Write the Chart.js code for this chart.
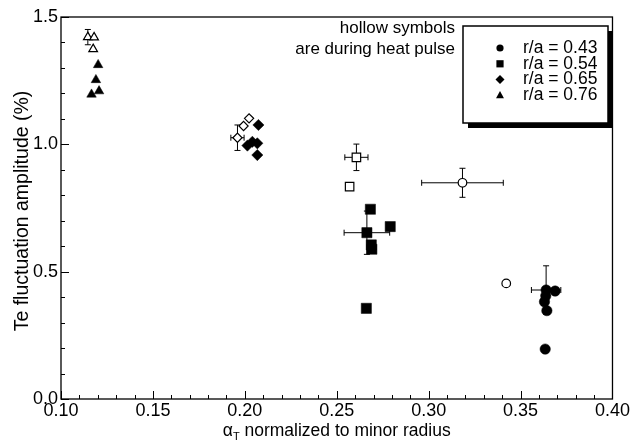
<!DOCTYPE html>
<html>
<head>
<meta charset="utf-8">
<script src="https://cdn.jsdelivr.net/npm/chart.js@4/dist/chart.umd.min.js"></script>
<style>
  html, body { margin: 0; padding: 0; background: #fff; }
  #wrap { width: 631px; height: 442px; }
</style>
</head>
<body>
<div id="wrap"><canvas id="c" width="631" height="442"></canvas></div>
<script>
// ---- data ----
const xTicks = [0.10, 0.15, 0.20, 0.25, 0.30, 0.35, 0.40];
const yTicks = [0.0, 0.5, 1.0, 1.5];
const legendLabels = ['r/a = 0.43', 'r/a = 0.54', 'r/a = 0.65', 'r/a = 0.76'];
const noteLines = ['hollow symbols', 'are during heat pulse'];
const xTitleMain = 'α';
const xTitleSub = 'T';
const xTitleRest = ' normalized to minor radius';
const yTitle = 'Te fluctuation amplitude (%)';

// r/a = 0.43 (circles)
const ra043FilledX = [0.3639, 0.3688, 0.3637, 0.3630, 0.3643, 0.3634];
const ra043FilledY = [0.428, 0.424, 0.405, 0.382, 0.347, 0.196];
const ra043FilledXErr = [0.008, 0, 0, 0, 0, 0];
const ra043FilledYErr = [0.095, 0, 0, 0, 0, 0];
const ra043HollowX = [0.3184, 0.3422];
const ra043HollowY = [0.849, 0.454];
const ra043HollowXErr = [0.0222, 0];
const ra043HollowYErr = [0.057, 0];

// r/a = 0.54 (squares)
const ra054FilledX = [0.2683, 0.2664, 0.2791, 0.2688, 0.2691, 0.2661];
const ra054FilledY = [0.745, 0.653, 0.677, 0.605, 0.588, 0.356];
const ra054FilledXErr = [0, 0.0124, 0, 0, 0, 0];
const ra054FilledYErr = [0, 0.085, 0, 0, 0, 0];
const ra054HollowX = [0.2607, 0.2570];
const ra054HollowY = [0.949, 0.834];
const ra054HollowXErr = [0.0063, 0];
const ra054HollowYErr = [0.052, 0];

// r/a = 0.65 (diamonds)
const ra065FilledX = [0.2074, 0.2014, 0.2041, 0.2068, 0.2068];
const ra065FilledY = [1.076, 0.995, 1.010, 1.004, 0.958];
const ra065HollowX = [0.1960, 0.1993, 0.2023];
const ra065HollowY = [1.026, 1.072, 1.102];
const ra065HollowXErr = [0.0036, 0, 0];
const ra065HollowYErr = [0.050, 0, 0];

// r/a = 0.76 (triangles)
const ra076FilledX = [0.1202, 0.1190, 0.1166, 0.1207];
const ra076FilledY = [1.312, 1.253, 1.196, 1.209];
const ra076HollowX = [0.1146, 0.1180, 0.1175];
const ra076HollowY = [1.421, 1.420, 1.374];
const ra076HollowXErr = [0, 0, 0];
const ra076HollowYErr = [0.030, 0, 0];

// ---- build datasets ----
const FONT = "'Liberation Sans', Arial, Helvetica, sans-serif";
function pts(xs, ys) { return xs.map((x, i) => ({ x: x, y: ys[i] })); }
function ds(xs, ys, style, r, hollow, xErr, yErr) {
  return {
    data: pts(xs, ys),
    pointStyle: style,
    pointRadius: r,
    backgroundColor: hollow ? '#ffffff' : '#000000',
    borderColor: '#000000',
    borderWidth: hollow ? 1.2 : 0.5,
    showLine: false,
    xErr: xErr || null,
    yErr: yErr || null
  };
}
const datasets = [
  ds(ra043HollowX, ra043HollowY, 'circle', 4.3, true, ra043HollowXErr, ra043HollowYErr),
  ds(ra043FilledX, ra043FilledY, 'circle', 5.2, false, ra043FilledXErr, ra043FilledYErr),
  ds(ra054HollowX, ra054HollowY, 'rect', 6, true, ra054HollowXErr, ra054HollowYErr),
  ds(ra054FilledX, ra054FilledY, 'rect', 7.2, false, ra054FilledXErr, ra054FilledYErr),
  ds(ra065HollowX, ra065HollowY, 'rectRot', 4.6, true, ra065HollowXErr, ra065HollowYErr),
  ds(ra065FilledX, ra065FilledY, 'rectRot', 5.6, false),
  ds(ra076HollowX, ra076HollowY, 'triangle', 5, true, ra076HollowXErr, ra076HollowYErr),
  ds(ra076FilledX, ra076FilledY, 'triangle', 5.5, false)
];

// ---- plugins ----
const errorBars = {
  id: 'errorBars',
  beforeDatasetsDraw(chart) {
    const { ctx, scales: { x, y } } = chart;
    ctx.save();
    ctx.strokeStyle = '#000';
    ctx.lineWidth = 1;
    const cap = 3;
    chart.data.datasets.forEach(d => {
      d.data.forEach((p, i) => {
        const px = x.getPixelForValue(p.x), py = y.getPixelForValue(p.y);
        const dx = d.xErr ? d.xErr[i] : 0, dy = d.yErr ? d.yErr[i] : 0;
        ctx.beginPath();
        if (dx) {
          const x1 = x.getPixelForValue(p.x - dx), x2 = x.getPixelForValue(p.x + dx);
          ctx.moveTo(x1, py); ctx.lineTo(x2, py);
          ctx.moveTo(x1, py - cap); ctx.lineTo(x1, py + cap);
          ctx.moveTo(x2, py - cap); ctx.lineTo(x2, py + cap);
        }
        if (dy) {
          const y1 = y.getPixelForValue(p.y - dy), y2 = y.getPixelForValue(p.y + dy);
          ctx.moveTo(px, y1); ctx.lineTo(px, y2);
          ctx.moveTo(px - cap, y1); ctx.lineTo(px + cap, y1);
          ctx.moveTo(px - cap, y2); ctx.lineTo(px + cap, y2);
        }
        ctx.stroke();
      });
    });
    ctx.restore();
  }
};

function drawSymbol(ctx, style, cx, cy, s) {
  ctx.beginPath();
  if (style === 'circle') {
    ctx.arc(cx, cy, s, 0, Math.PI * 2);
  } else if (style === 'rect') {
    ctx.rect(cx - s, cy - s, 2 * s, 2 * s);
  } else if (style === 'rectRot') {
    ctx.moveTo(cx - s * 1.25, cy); ctx.lineTo(cx, cy - s * 1.25);
    ctx.lineTo(cx + s * 1.25, cy); ctx.lineTo(cx, cy + s * 1.25);
    ctx.closePath();
  } else {
    ctx.moveTo(cx, cy - s * 1.2); ctx.lineTo(cx + s * 1.1, cy + s * 0.8);
    ctx.lineTo(cx - s * 1.1, cy + s * 0.8); ctx.closePath();
  }
  ctx.fill();
}

const decorations = {
  id: 'decorations',
  afterDraw(chart) {
    const { ctx, chartArea: a, scales: { x, y } } = chart;
    ctx.save();
    // frame
    ctx.strokeStyle = '#000';
    ctx.lineWidth = 1.3;
    ctx.strokeRect(a.left, a.top, a.right - a.left, a.bottom - a.top);
    // inward ticks
    ctx.lineWidth = 1;
    ctx.beginPath();
    for (let k = 0; k <= 30; k++) {
      const v = 0.10 + k * 0.01;
      const px = Math.round(x.getPixelForValue(v)) + 0.5;
      const len = (k % 5 === 0) ? 8 : 4;
      ctx.moveTo(px, a.bottom); ctx.lineTo(px, a.bottom - len);
    }
    for (let k = 0; k <= 15; k++) {
      const v = k * 0.1;
      const py = Math.round(y.getPixelForValue(v)) + 0.5;
      const len = (k % 5 === 0) ? 8 : 4;
      ctx.moveTo(a.left, py); ctx.lineTo(a.left + len, py);
    }
    ctx.stroke();

    // axis titles
    ctx.fillStyle = '#000';
    ctx.font = '17.5px ' + FONT;
    ctx.textBaseline = 'alphabetic';
    const wMain = ctx.measureText(xTitleMain).width;
    ctx.font = '11px ' + FONT;
    const wSub = ctx.measureText(xTitleSub).width;
    ctx.font = '17.5px ' + FONT;
    const wRest = ctx.measureText(xTitleRest).width;
    const total = wMain + wSub + wRest;
    let tx = (a.left + a.right) / 2 - total / 2;
    const ty = 436;
    ctx.textAlign = 'left';
    ctx.fillText(xTitleMain, tx, ty);
    ctx.font = '11px ' + FONT;
    ctx.fillText(xTitleSub, tx + wMain, ty + 4);
    ctx.font = '17.5px ' + FONT;
    ctx.fillText(xTitleRest, tx + wMain + wSub, ty);

    ctx.save();
    ctx.translate(23, (a.top + a.bottom) / 2 + 3);
    ctx.rotate(-Math.PI / 2);
    ctx.textAlign = 'center';
    ctx.textBaseline = 'middle';
    ctx.font = '19.5px ' + FONT;
    ctx.fillText(yTitle, 0, 0);
    ctx.restore();

    // note text
    ctx.font = '17px ' + FONT;
    ctx.textAlign = 'right';
    ctx.textBaseline = 'middle';
    ctx.fillText(noteLines[0], 455, 28);
    ctx.fillText(noteLines[1], 455, 49);

    // legend box with shadow
    const bx = 463, by = 26, bw = 145, bh = 97;
    ctx.fillStyle = '#000';
    ctx.fillRect(bx + 5, by + 5, bw, bh);
    ctx.fillStyle = '#fff';
    ctx.fillRect(bx, by, bw, bh);
    ctx.strokeStyle = '#000';
    ctx.lineWidth = 1.5;
    ctx.strokeRect(bx, by, bw, bh);

    const styles = ['circle', 'rect', 'rectRot', 'triangle'];
    ctx.fillStyle = '#000';
    ctx.textAlign = 'left';
    ctx.textBaseline = 'middle';
    ctx.font = '17.5px ' + FONT;
    legendLabels.forEach((lab, i) => {
      const ly = 48 + i * 15.8;
      drawSymbol(ctx, styles[i], 500, ly, 3.6);
      ctx.fillText(lab, 523, ly);
    });
    ctx.restore();
  }
};

new Chart(document.getElementById('c'), {
  type: 'scatter',
  data: { datasets: datasets },
  options: {
    responsive: false,
    animation: false,
    events: [],
    layout: { padding: { left: 0, right: 16, top: 17, bottom: 0 } },
    plugins: { legend: { display: false }, tooltip: { enabled: false } },
    scales: {
      x: {
        type: 'linear', min: 0.10, max: 0.40,
        afterFit: s => { s.height = 43; },
        afterBuildTicks: s => { s.ticks = xTicks.map(v => ({ value: v })); },
        grid: { display: false, drawTicks: false },
        border: { display: false },
        ticks: { padding: 1, color: '#000', font: { family: FONT, size: 18 }, callback: v => Number(v).toFixed(2), maxRotation: 0 }
      },
      y: {
        type: 'linear', min: 0, max: 1.5,
        afterFit: s => { s.width = 61; },
        afterBuildTicks: s => { s.ticks = yTicks.map(v => ({ value: v })); },
        grid: { display: false, drawTicks: false },
        border: { display: false },
        ticks: { padding: 3, color: '#000', font: { family: FONT, size: 18 }, callback: v => Number(v).toFixed(1) }
      }
    }
  },
  plugins: [errorBars, decorations]
});
</script>
</body>
</html>
